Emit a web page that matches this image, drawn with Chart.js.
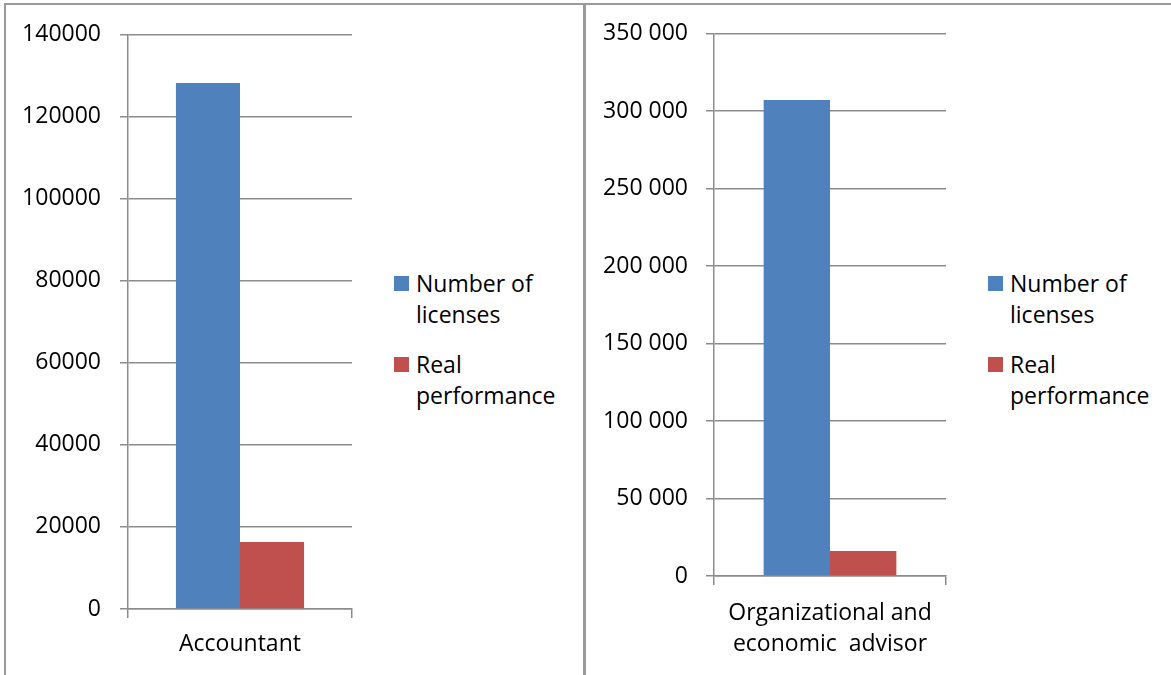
<!DOCTYPE html>
<html>
<head>
<meta charset="utf-8">
<script src="https://cdn.jsdelivr.net/npm/chart.js@4/dist/chart.umd.min.js"></script>
<style>
  html, body { margin: 0; padding: 0; background: #fff; }
  body { width: 1171px; height: 675px; position: relative; overflow: hidden; font-family: 'Open Sans', sans-serif; }
  .line { position: absolute; background: #9a9a9a; }
  .box { position: absolute; }
  .legend { position: absolute; font-size: 23px; line-height: 31px; color: #000; }
  .legend .item { position: absolute; left: 0; white-space: nowrap; }
  .legend .swatch { position: absolute; width: 15px; height: 15px; }
  .legend .text { position: absolute; }
</style>
</head>
<body>
<div class="line" style="left:4px; top:3px; width:1167px; height:2px;"></div>
<div class="line" style="left:4px; top:3px; width:2px; height:672px;"></div>
<div class="line" style="left:583px; top:3px; width:3px; height:672px;"></div>

<div class="box" style="left:0; top:0; width:380px; height:675px;"><canvas id="leftChart"></canvas></div>
<div class="box" style="left:590px; top:0; width:380px; height:675px;"><canvas id="rightChart"></canvas></div>

<div class="legend" id="leftLegend" style="left:394px; top:0;"></div>
<div class="legend" id="rightLegend" style="left:988px; top:0;"></div>

<script>
// data
const seriesNames = [['Number of', 'licenses'], ['Real', 'performance']];
const seriesColors = ['#4F81BD', '#C0504D'];

const leftCategories = ['Accountant'];
const leftLicenses = [128200];
const leftReal = [16300];
const leftTicks = [0, 20000, 40000, 60000, 80000, 100000, 120000, 140000];

const rightCategories = [['Organizational and', 'economic  advisor']];
const rightLicenses = [307100];
const rightReal = [16100];
const rightTicks = [0, 50000, 100000, 150000, 200000, 250000, 300000, 350000];

const gridColor = '#8c8c8c';
const font = { family: "'Open Sans', sans-serif", size: 23, lineHeight: 1.35 };

function makeChart(id, categories, licenses, real, ticks, fmt, opts) {
  const ctx = document.getElementById(id).getContext('2d');
  return new Chart(ctx, {
    type: 'bar',
    data: {
      labels: categories,
      datasets: [
        { label: seriesNames[0].join(' '), data: licenses, backgroundColor: seriesColors[0] },
        { label: seriesNames[1].join(' '), data: real, backgroundColor: seriesColors[1] }
      ]
    },
    options: {
      responsive: false,
      maintainAspectRatio: false,
      animation: false,
      events: [],
      layout: { padding: { left: 0, right: opts.padRight, top: opts.padTop, bottom: 0 } },
      datasets: { bar: { categoryPercentage: 0.572, barPercentage: 1 } },
      plugins: { legend: { display: false }, tooltip: { enabled: false } },
      scales: {
        x: {
          offset: true,
          grid: { offset: true, drawOnChartArea: false, drawTicks: true, tickLength: 9, color: gridColor, lineWidth: 1.5 },
          border: { color: gridColor, width: 1.5 },
          ticks: { color: '#000', font: font, padding: opts.xPad, maxRotation: 0 },
          afterFit: s => { s.height = opts.xHeight; }
        },
        y: {
          min: ticks[0],
          max: ticks[ticks.length - 1],
          afterBuildTicks: s => { s.ticks = ticks.map(v => ({ value: v })); },
          grid: { color: gridColor, lineWidth: 1.5, tickLength: 8 },
          border: { color: gridColor, width: 1.5 },
          ticks: { color: '#000', font: font, padding: opts.yPad, callback: v => fmt(v) },
          afterFit: s => { s.width = opts.yWidth; }
        }
      }
    }
  });
}

function buildLegend(id, tops) {
  const el = document.getElementById(id);
  seriesNames.forEach((name, i) => {
    const item = document.createElement('div');
    item.className = 'item';
    item.style.top = tops[i] + 'px';
    item.innerHTML = '<div class="swatch" style="background:' + seriesColors[i] + '; top:8px;"></div>' +
      '<div class="text" style="left:22px; top:0;">' + name.join('<br>') + '</div>';
    el.appendChild(item);
  });
}

const leftCanvas = document.getElementById('leftChart');
leftCanvas.width = 380; leftCanvas.height = 675;
const rightCanvas = document.getElementById('rightChart');
rightCanvas.width = 380; rightCanvas.height = 675;

makeChart('leftChart', leftCategories, leftLicenses, leftReal, leftTicks, v => String(v),
  { padRight: 28, padTop: 33, xHeight: 66, yWidth: 128, yPad: 19, xPad: 11 });

makeChart('rightChart', rightCategories, rightLicenses, rightReal, rightTicks,
  v => String(v).replace(/\B(?=(\d{3})+(?!\d))/g, ' '),
  { padRight: 24, padTop: 33, xHeight: 99, yWidth: 124, yPad: 18, xPad: 13 });

buildLegend('leftLegend', [268, 349]);
buildLegend('rightLegend', [268, 349]);
</script>
</body>
</html>
